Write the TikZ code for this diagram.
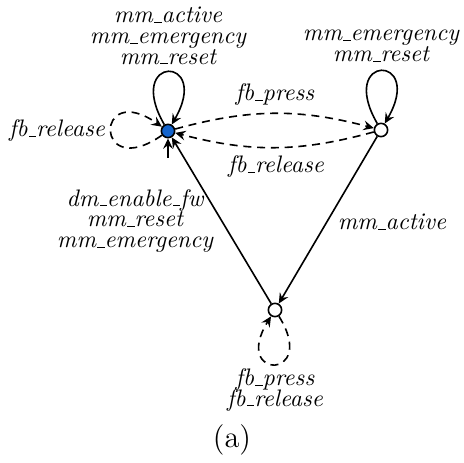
\documentclass[tikz,border=0pt]{standalone}
\usetikzlibrary{arrows.meta}
\definecolor{stateblue}{RGB}{20,100,205}
% short underscore for the event names
\newcommand{\us}{\leavevmode\kern.06em\vbox{\hrule width.3em}}
\begin{document}
\begin{tikzpicture}[x=0.0153cm, y=0.0153cm, line width=0.7pt,
    >={Stealth[length=4.5pt,width=4.2pt,inset=1.6pt]},
    state/.style={circle, draw, fill=white, inner sep=0pt, minimum size=5.8pt},
    lbl/.style={align=center, inner sep=0pt, font=\fontsize{10.4pt}{12.5pt}\selectfont\itshape},
    soft/.style={dash pattern=on 3.5pt off 2.5pt}]
    \useasboundingbox (0,0) rectangle (464,463);
    % states
    \node[state, fill=stateblue] (idle) at (168,332) {};
    \node[state] (pressed) at (381,333) {};
    \node[state] (active) at (275,153) {};
    \coordinate (start) at (168,305);
    \draw[->] (start) -- (idle);
    % self loops
    \draw[->] (idle) to[out=120, in=60, looseness=8, min distance=1.24cm] (idle);
    \draw[->, soft] (idle) to[out=215, in=145, looseness=8, min distance=1.27cm] (idle);
    \draw[->] (pressed) to[out=120, in=60, looseness=8, min distance=1.24cm] (pressed);
    \draw[->, soft] (active) to[out=-58, in=-122, looseness=8, min distance=1.16cm] (active);
    % transitions
    \draw[->, soft] (idle) to[bend left=15] (pressed);
    \draw[->, soft] (pressed) to[bend left=15] (idle);
    \draw[->] (pressed) -- (active);
    \draw[->] (active) -- (idle);
    % labels
    \node[lbl] (idleTop) at (168,427) {mm\us active\\[-3.5pt]mm\us emergency\\[-3.5pt]mm\us reset};
    \node[lbl] (idleLeft) at (57,332) {fb\us release};
    \node[lbl] (pressedTop) at (381,417) {mm\us emergency\\[-3.5pt]mm\us reset};
    \node[lbl] (pressLbl) at (275,368) {fb\us press};
    \node[lbl] (releaseLbl) at (276,296) {fb\us release};
    \node[lbl] (activeLbl) at (392,241) {mm\us active};
    \node[lbl] (backLbl) at (135,242) {dm\us enable\us fw\\[-3.5pt]mm\us reset\\[-3.5pt]mm\us emergency};
    \node[lbl] (activeBottom) at (275,73) {fb\us press\\[-3.5pt]fb\us release};
    \node (caption) at (232,23) {\fontsize{13.3pt}{16pt}\selectfont (a)};
\end{tikzpicture}
\end{document}
